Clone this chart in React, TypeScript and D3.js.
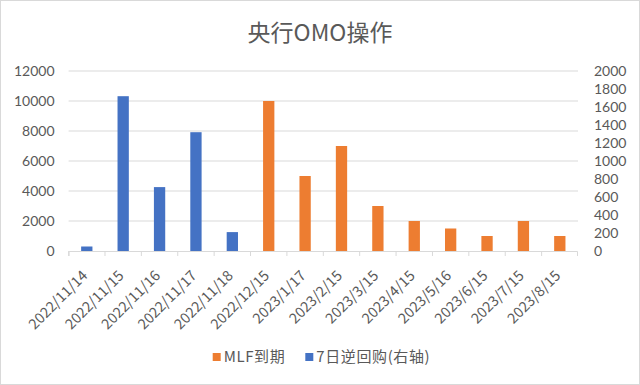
import { useRef, useEffect } from 'react';
import * as d3 from 'd3';

const WIDTH = 640;
const HEIGHT = 385;
const MARGIN = { top: 71, right: 62, bottom: 134, left: 68.6 };

const FONT = '"Noto Sans CJK SC", "Noto Sans", sans-serif';
const NUM_FONT = 'Lato, "Noto Sans", sans-serif';
const TEXT_COLOR = '#595959';
const GRID_COLOR = '#d9d9d9';
const MLF_COLOR = '#ed7d31';
const REPO_COLOR = '#4472c4';

const TITLE = '央行OMO操作';

const dates = [
  '2022/11/14', '2022/11/15', '2022/11/16', '2022/11/17', '2022/11/18',
  '2022/12/15', '2023/1/17', '2023/2/15', '2023/3/15', '2023/4/15',
  '2023/5/16', '2023/6/15', '2023/7/15', '2023/8/15',
];

// 7日逆回购 (right axis), only first five dates
const repoValues: (number | null)[] = [50, 1720, 710, 1320, 210, null, null, null, null, null, null, null, null, null];
// MLF到期 (left axis)
const mlfValues: (number | null)[] = [null, null, null, null, null, 10000, 5000, 7000, 3000, 2000, 1500, 1000, 2000, 1000];

const leftTicks = [0, 2000, 4000, 6000, 8000, 10000, 12000];
const rightTicks = [0, 200, 400, 600, 800, 1000, 1200, 1400, 1600, 1800, 2000];

const legendItems = [
  { label: 'MLF到期', color: MLF_COLOR },
  { label: '7日逆回购(右轴)', color: REPO_COLOR },
];

export default function App() {
  const svgRef = useRef<SVGSVGElement>(null);

  useEffect(() => {
    if (!svgRef.current) return;
    const innerWidth = WIDTH - MARGIN.left - MARGIN.right;
    const innerHeight = HEIGHT - MARGIN.top - MARGIN.bottom;

    const svg = d3.select(svgRef.current);
    svg.selectAll('*').remove();

    // background + chart border
    svg.append('rect')
      .attr('x', 0.5).attr('y', 0.5)
      .attr('width', WIDTH - 1).attr('height', HEIGHT - 1)
      .attr('fill', '#fff')
      .attr('stroke', GRID_COLOR);

    svg.append('text')
      .attr('x', WIDTH / 2)
      .attr('y', 41)
      .attr('text-anchor', 'middle')
      .attr('fill', TEXT_COLOR)
      .attr('font-size', '23px')
      .attr('font-family', FONT)
      .text(TITLE);

    const g = svg.append('g').attr('transform', `translate(${MARGIN.left},${MARGIN.top})`);

    const x = d3.scaleBand().domain(dates).range([0, innerWidth]).paddingInner(0).paddingOuter(0);
    const yLeft = d3.scaleLinear().domain([0, 12000]).range([innerHeight, 0]);
    const yRight = d3.scaleLinear().domain([0, 2000]).range([innerHeight, 0]);

    // ── Grid lines ──
    g.append('g')
      .selectAll('line')
      .data(leftTicks.slice(1))
      .join('line')
      .attr('x1', 0).attr('x2', innerWidth)
      .attr('y1', (d) => yLeft(d)).attr('y2', (d) => yLeft(d))
      .attr('stroke', GRID_COLOR)
      .attr('stroke-width', 1);

    // ── Left axis labels ──
    g.append('g')
      .selectAll('text')
      .data(leftTicks)
      .join('text')
      .attr('x', -14)
      .attr('y', (d) => yLeft(d))
      .attr('dy', '0.35em')
      .attr('text-anchor', 'end')
      .attr('fill', TEXT_COLOR)
      .attr('font-size', '14px')
      .attr('font-family', NUM_FONT)
      .text((d) => String(d));

    // ── Right axis labels ──
    g.append('g')
      .selectAll('text')
      .data(rightTicks)
      .join('text')
      .attr('x', innerWidth + 16)
      .attr('y', (d) => yRight(d))
      .attr('dy', '0.35em')
      .attr('text-anchor', 'start')
      .attr('fill', TEXT_COLOR)
      .attr('font-size', '14px')
      .attr('font-family', NUM_FONT)
      .text((d) => String(d));

    // ── Bars ──
    const barW = 11.3;
    g.append('g')
      .selectAll('rect')
      .data(dates.map((d, i) => ({ d, v: mlfValues[i] })).filter((e) => e.v != null))
      .join('rect')
      .attr('x', (e) => x(e.d)! + x.bandwidth() / 2 - barW / 2)
      .attr('width', barW)
      .attr('y', (e) => yLeft(e.v!))
      .attr('height', (e) => innerHeight - yLeft(e.v!))
      .attr('fill', MLF_COLOR);

    g.append('g')
      .selectAll('rect')
      .data(dates.map((d, i) => ({ d, v: repoValues[i] })).filter((e) => e.v != null))
      .join('rect')
      .attr('x', (e) => x(e.d)! + x.bandwidth() / 2 - barW / 2)
      .attr('width', barW)
      .attr('y', (e) => yRight(e.v!))
      .attr('height', (e) => innerHeight - yRight(e.v!))
      .attr('fill', REPO_COLOR);

    // ── X axis ──
    const xAxis = d3.axisBottom(x).tickSize(5).tickSizeOuter(5).tickFormat(() => '');
    const xg = g.append('g')
      .attr('transform', `translate(0,${innerHeight})`)
      .call(xAxis);
    xg.select('.domain').attr('stroke', GRID_COLOR).attr('d', `M0.5,5V0.5H${innerWidth - 0.5}V5`);
    xg.selectAll('.tick line')
      .attr('stroke', GRID_COLOR)
      .attr('transform', `translate(${-x.bandwidth() / 2},0)`);

    g.append('g')
      .selectAll('text')
      .data(dates)
      .join('text')
      .attr('transform', (d) => `translate(${x(d)! + x.bandwidth() / 2 - 2},${innerHeight + 22}) rotate(-45)`)
      .attr('text-anchor', 'end')
      .attr('dy', '0.35em')
      .attr('fill', TEXT_COLOR)
      .attr('font-size', '14.5px')
      .attr('font-family', FONT)
      .text((d) => d);

    // ── Legend ──
    const legend = svg.append('g').attr('transform', 'translate(212.7,357)');
    let offset = 0;
    legendItems.forEach((item) => {
      const lg = legend.append('g').attr('transform', `translate(${offset},0)`);
      lg.append('rect')
        .attr('x', 0).attr('y', -4)
        .attr('width', 8).attr('height', 8)
        .attr('fill', item.color);
      const t = lg.append('text')
        .attr('x', 11)
        .attr('y', 0)
        .attr('dy', '0.35em')
        .attr('fill', TEXT_COLOR)
        .attr('font-size', '15px')
        .attr('letter-spacing', '0.6px')
        .attr('font-family', FONT)
        .text(item.label);
      const w = (t.node() as SVGTextElement).getComputedTextLength();
      offset += 11 + w + 20;
    });
  }, []);

  return (
    <svg
      ref={svgRef}
      width={WIDTH}
      height={HEIGHT}
      style={{ position: 'absolute', left: 0, top: 0, display: 'block' }}
    />
  );
}
